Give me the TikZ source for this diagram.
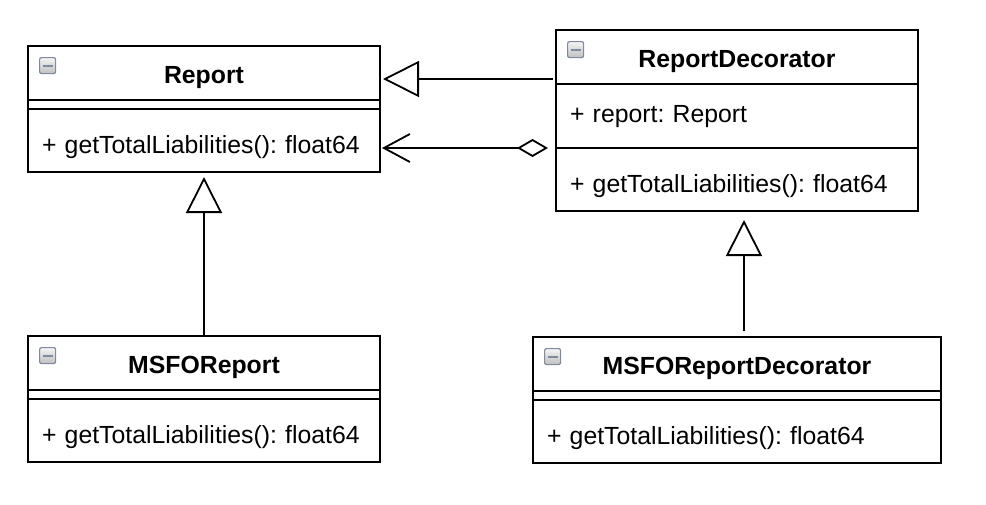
\documentclass[tikz,border=0pt]{standalone}
\usepackage{fontspec}
\setmainfont{Liberation Sans}
\usetikzlibrary{positioning,shapes,arrows.meta}
\definecolor{iconedge}{RGB}{128,138,158}
\frenchspacing
\tikzstyle{classhead} = [rectangle, draw=black, line width=1pt, outer sep=0pt, inner sep=0pt, text height=18.5pt, text depth=8.5pt, font=\fontsize{12.4}{15}\selectfont\bfseries]
\tikzstyle{classsep} = [rectangle, draw=black, line width=1pt, outer sep=0pt, inner sep=0pt, minimum height=4.5pt]
\tikzstyle{classattr} = [rectangle, draw=black, line width=1pt, outer sep=0pt, inner xsep=7pt, inner ysep=0pt, align=left, text height=19pt, text depth=13pt, font=\fontsize{12.4}{15}\selectfont]
\tikzstyle{classops} = [rectangle, draw=black, line width=1pt, outer sep=0pt, inner xsep=7pt, inner ysep=0pt, align=left, text height=22pt, text depth=9.5pt, font=\fontsize{12.4}{15}\selectfont]
\tikzstyle{icon} = [rectangle, rounded corners=1pt, minimum size=8pt, inner sep=0pt, draw=iconedge, line width=0.6pt, top color=gray!8, bottom color=gray!50, anchor=north west, path picture={\draw[line width=1.1pt] ([xshift=1.5pt]path picture bounding box.west) -- ([xshift=-1.5pt]path picture bounding box.east);}]
\tikzstyle{inherit} = [line width=0.9pt, -{Triangle[open, fill=white, length=18pt, width=18pt]}]
\tikzstyle{aggregate} = [line width=0.9pt, {Diamond[open, fill=white, length=15.5pt, width=9pt]}-{Straight Barb[length=13pt, width=14pt]}]

\begin{document}
\begin{tikzpicture}[node distance=0pt]
			\useasboundingbox (0,0) rectangle (493pt,-252pt);
			\node (rephead) [classhead, minimum width=176pt, anchor=north west] at (14pt,-23pt) {Report};
			\node (repsep) [classsep, minimum width=176pt, below=of rephead] {};
			\node (repops) [classops, text width=162pt, below=of repsep] {+ getTotalLiabilities(): float64};
			\node (dechead) [classhead, minimum width=181pt, right=88pt of rephead.north east, anchor=north west, yshift=8pt] {ReportDecorator};
			\node (decattr) [classattr, text width=167pt, below=of dechead] {+ report: Report};
			\node (decops) [classops, text width=167pt, below=of decattr] {+ getTotalLiabilities(): float64};
			\node (msfohead) [classhead, minimum width=176pt, below=82pt of repops] {MSFOReport};
			\node (msfosep) [classsep, minimum width=176pt, below=of msfohead] {};
			\node (msfoops) [classops, text width=162pt, below=of msfosep] {+ getTotalLiabilities(): float64};
			\node (msfodechead) [classhead, minimum width=204pt, below=63pt of decops] {MSFOReportDecorator};
			\node (msfodecsep) [classsep, minimum width=204pt, below=of msfodechead] {};
			\node (msfodecops) [classops, text width=190pt, below=of msfodecsep] {+ getTotalLiabilities(): float64};

			\foreach \c in {rephead, dechead, msfohead, msfodechead}
				\node (\c-icon) [icon] at ([shift={(5.5pt,-5.5pt)}]\c.north west) {};

			\draw [inherit, shorten <=1.5pt, shorten >=1.5pt] ([yshift=2.5pt]dechead.south west) -- ([yshift=2.5pt]dechead.south west -| rephead.east);
			\draw [aggregate, shorten <=4pt, shorten >=1pt] (decops.north west) -- (decops.north west -| repops.east);
			\draw [inherit, shorten >=2.5pt] (msfohead.north) -- (repops.south);
			\draw [inherit, shorten <=3pt, shorten >=4.5pt] ([xshift=3.5pt]msfodechead.north) -- ([xshift=3.5pt]decops.south);

			\end{tikzpicture}
\end{document}
